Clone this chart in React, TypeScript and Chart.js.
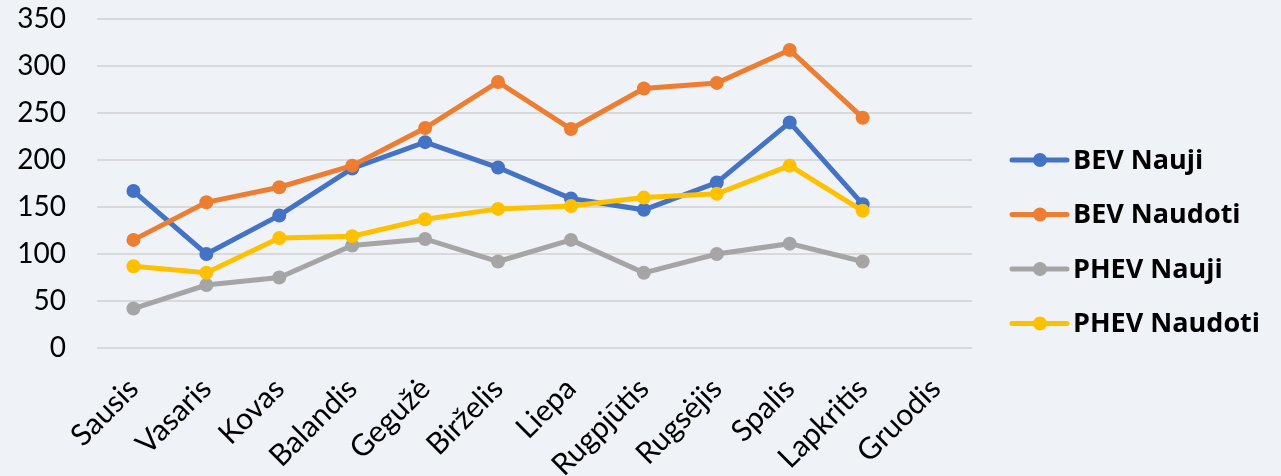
import React, { useEffect, useRef } from 'react';
import { Chart, registerables } from 'chart.js';

Chart.register(...registerables);

const months = ['Sausis', 'Vasaris', 'Kovas', 'Balandis', 'Gegužė', 'Birželis', 'Liepa', 'Rugpjūtis', 'Rugsėjis', 'Spalis', 'Lapkritis', 'Gruodis'];
const bevNauji = [167, 100, 141, 191, 219, 192, 159, 147, 176, 240, 153, null];
const bevNaudoti = [115, 155, 171, 194, 234, 283, 233, 276, 282, 317, 245, null];
const phevNauji = [42, 67, 75, 109, 116, 92, 115, 80, 100, 111, 92, null];
const phevNaudoti = [87, 80, 117, 119, 137, 148, 151, 160, 164, 194, 146, null];
const seriesNames = ['BEV Nauji', 'BEV Naudoti', 'PHEV Nauji', 'PHEV Naudoti'];
const seriesColors = ['#4472C4', '#ED7D31', '#A5A5A5', '#FFC000'];
const yMin = 0;
const yMax = 350;
const yStep = 50;

const BG = '#EFF3F7';
const FONT = 'Lato, "Open Sans", sans-serif';
const LEGEND_FONT = '"Open Sans", Lato, sans-serif';

const legendPlugin = {
  id: 'sideLegend',
  afterDraw(chart: any) {
    const ctx = chart.ctx as CanvasRenderingContext2D;
    const area = chart.chartArea;
    const startX = area.right + 40;
    const rowGap = 54.5;
    const firstY = 160;
    ctx.save();
    chart.data.datasets.forEach((ds: any, i: number) => {
      const y = firstY + i * rowGap;
      ctx.strokeStyle = ds.borderColor;
      ctx.lineWidth = 5;
      ctx.lineCap = 'round';
      ctx.beginPath();
      ctx.moveTo(startX, y);
      ctx.lineTo(startX + 55, y);
      ctx.stroke();
      ctx.fillStyle = ds.borderColor;
      ctx.beginPath();
      ctx.arc(startX + 28, y, 7, 0, Math.PI * 2);
      ctx.fill();
      ctx.fillStyle = '#000';
      ctx.font = `bold 27px ${LEGEND_FONT}`;
      ctx.textAlign = 'left';
      ctx.textBaseline = 'middle';
      ctx.fillText(ds.label, startX + 61, y + 1);
    });
    ctx.restore();
  },
};

export default function App() {
  const canvasRef = useRef<HTMLCanvasElement | null>(null);

  useEffect(() => {
    document.body.style.margin = '0';
    document.body.style.background = BG;
    const canvas = canvasRef.current;
    if (!canvas) return;
    const allData = [bevNauji, bevNaudoti, phevNauji, phevNaudoti];
    const chart = new Chart(canvas, {
      type: 'line',
      data: {
        labels: months,
        datasets: allData.map((d, i) => ({
          label: seriesNames[i],
          data: d,
          borderColor: seriesColors[i],
          backgroundColor: seriesColors[i],
          pointBackgroundColor: seriesColors[i],
          pointBorderColor: seriesColors[i],
          borderWidth: 5,
          pointRadius: 7,
          pointBorderWidth: 0,
          tension: 0,
          fill: false,
          order: 3 - i,
        })),
      },
      options: {
        animation: false,
        responsive: true,
        maintainAspectRatio: false,
        layout: { padding: { top: 19, right: 309, bottom: 0, left: 0 } },
        plugins: {
          legend: { display: false },
          tooltip: { enabled: false },
        },
        scales: {
          x: {
            offset: true,
            grid: { display: false, drawTicks: false },
            border: { display: false },
            ticks: {
              color: '#000',
              font: { family: FONT, size: 30 },
              maxRotation: 45,
              minRotation: 45,
              autoSkip: false,
              padding: 23,
            },
            afterFit: (scale: any) => {
              scale.height = 128;
              scale.paddingLeft = 0;
              scale.paddingRight = 0;
            },
          },
          y: {
            min: yMin,
            max: yMax,
            grid: { color: '#D9D9D9', lineWidth: 2, drawTicks: false },
            border: { display: false },
            ticks: {
              stepSize: yStep,
              color: '#000',
              font: { family: FONT, size: 28 },
              padding: 31,
            },
            afterFit: (scale: any) => {
              scale.width = 97;
              scale.paddingTop = 0;
              scale.paddingBottom = 0;
            },
          },
        },
      },
      plugins: [legendPlugin],
    });
    return () => chart.destroy();
  }, []);

  return (
    <div style={{ width: 1281, height: 476, background: BG, position: 'relative' }}>
      <canvas ref={canvasRef} />
    </div>
  );
}
